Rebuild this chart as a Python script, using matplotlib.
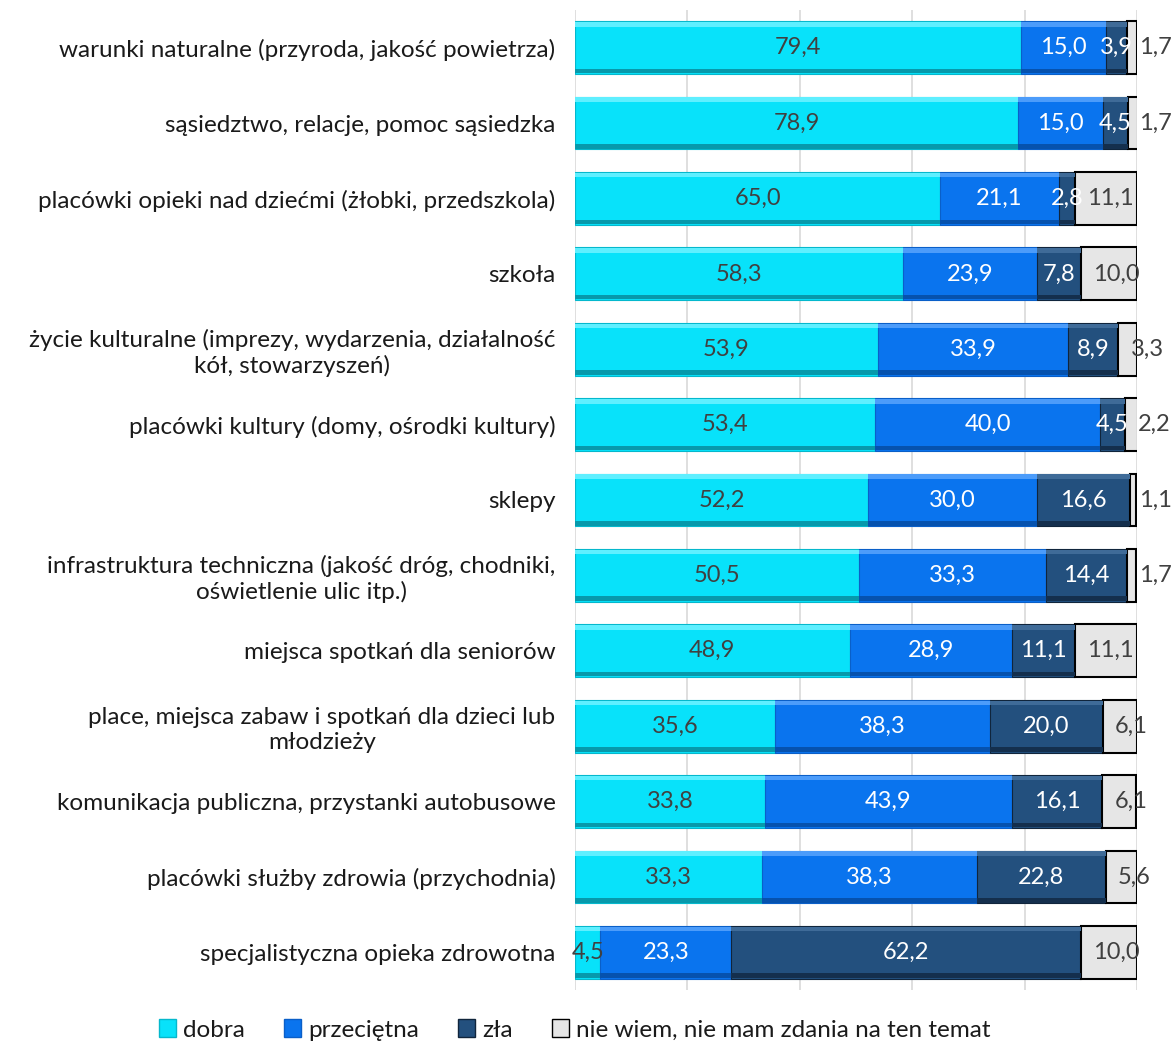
import numpy as np
import matplotlib.pyplot as plt
from matplotlib.patches import Patch

plt.rcParams['font.family'] = ['Lato', 'DejaVu Sans']

# dane
kategorie = [
    'warunki naturalne (przyroda, jakość powietrza)',
    'sąsiedztwo, relacje, pomoc sąsiedzka',
    'placówki opieki nad dziećmi (żłobki, przedszkola)',
    'szkoła',
    'życie kulturalne (imprezy, wydarzenia, działalność\nkół, stowarzyszeń)',
    'placówki kultury (domy, ośrodki kultury)',
    'sklepy',
    'infrastruktura techniczna (jakość dróg, chodniki,\noświetlenie ulic itp.)',
    'miejsca spotkań dla seniorów',
    'place, miejsca zabaw i spotkań dla dzieci lub\nmłodzieży',
    'komunikacja publiczna, przystanki autobusowe',
    'placówki służby zdrowia (przychodnia)',
    'specjalistyczna opieka zdrowotna',
]
dobra = [79.4, 78.9, 65.0, 58.3, 53.9, 53.4, 52.2, 50.5, 48.9, 35.6, 33.8, 33.3, 4.5]
przecietna = [15.0, 15.0, 21.1, 23.9, 33.9, 40.0, 30.0, 33.3, 28.9, 38.3, 43.9, 38.3, 23.3]
zla = [3.9, 4.5, 2.8, 7.8, 8.9, 4.5, 16.6, 14.4, 11.1, 20.0, 16.1, 22.8, 62.2]
nie_wiem = [1.7, 1.7, 11.1, 10.0, 3.3, 2.2, 1.1, 1.7, 11.1, 6.1, 6.1, 5.6, 10.0]
serie = ['dobra', 'przeciętna', 'zła', 'nie wiem, nie mam zdania na ten temat']

kolory = ['#08E2FA', '#0A74EE', '#23507E', '#E6E6E6']
jasne = ['#5FEFFF', '#4C9CFA', '#3F6B98', '#E6E6E6']
ciemne = ['#0799AB', '#0652AE', '#142F4D', '#E6E6E6']
krawedzie = ['#05B8CC', '#0A5FC8', '#10253C', '#000000']
kolor_tekstu = ['#404040', 'white', 'white', '#404040']

fs = 17.5
fs_dane = 17

fig = plt.figure(figsize=(11.73, 10.48), dpi=100)
ax = fig.add_axes([575 / 1173, 58 / 1048, 562 / 1173, 980 / 1048])

y = np.arange(len(kategorie))
h = 0.7
dane = [dobra, przecietna, zla, nie_wiem]
lewo = np.zeros(len(kategorie))
for k, wart in enumerate(dane):
    wart = np.array(wart)
    lw = 1.5 if k == 3 else 0.8
    ax.barh(y, wart, left=lewo, height=h, color=kolory[k], edgecolor=krawedzie[k],
            linewidth=lw, zorder=3)
    if k < 3:
        # efekt faz
        ax.barh(y - h / 2 + 0.04, wart, left=lewo, height=0.06, color=jasne[k],
                linewidth=0, zorder=4)
        ax.barh(y + h / 2 - 0.04, wart, left=lewo, height=0.06, color=ciemne[k],
                linewidth=0, zorder=4)
    for i, v in enumerate(wart):
        etykieta = ('%.1f' % v).replace('.', ',')
        if k == 3:
            ax.text(min(lewo[i] + 2.2, 100.3), y[i], etykieta, ha='left', va='center',
                    fontsize=fs_dane, color=kolor_tekstu[k], zorder=5, clip_on=False)
        else:
            ax.text(lewo[i] + v / 2, y[i], etykieta, ha='center', va='center',
                    fontsize=fs_dane, color=kolor_tekstu[k], zorder=5)
    lewo = lewo + wart

ax.set_xlim(0, 100)
ax.set_ylim(len(kategorie) - 0.5, -0.5)
ax.set_xticks(np.arange(0, 101, 20))
ax.set_xticklabels([])
ax.grid(axis='x', color='#D9D9D9', linewidth=1.2, zorder=0)
ax.set_yticks(y)
ax.set_yticklabels(kategorie, fontsize=fs, color='#1A1A1A', multialignment='center')
ax.tick_params(axis='y', length=0, pad=14)
ax.tick_params(axis='x', length=0)
for s in ax.spines.values():
    s.set_visible(False)

uchwyty = [Patch(facecolor=kolory[k], edgecolor=krawedzie[k], linewidth=1) for k in range(4)]
fig.legend(uchwyty, serie, loc='center', bbox_to_anchor=(575 / 1173, 1 - 1030 / 1048),
           ncol=4, frameon=False, fontsize=fs, handlelength=0.7, handleheight=0.7,
           handletextpad=0.3, columnspacing=1.6, labelcolor='#1A1A1A')

fig.savefig('out.png', dpi=100)
